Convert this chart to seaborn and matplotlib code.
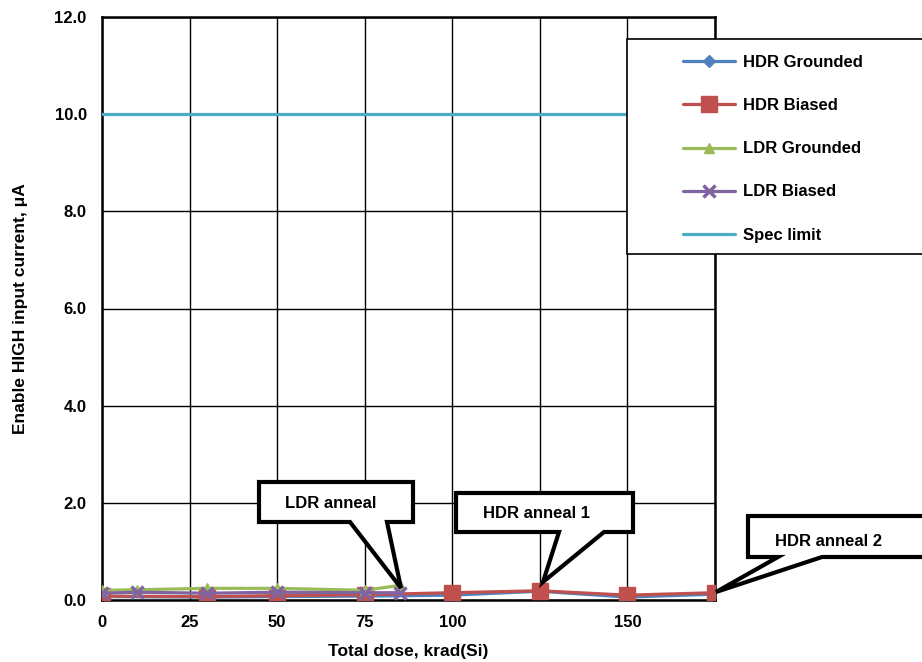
import matplotlib
matplotlib.use("Agg")
import matplotlib.pyplot as plt
import matplotlib.patches as mpatches
from matplotlib.transforms import IdentityTransform
import seaborn as sns
import pandas as pd

# ---- data ----
dose_hdr = [0, 30, 50, 75, 100, 125, 150, 175]
hdr_grounded = [0.07, 0.06, 0.07, 0.08, 0.10, 0.18, 0.06, 0.12]
hdr_biased = [0.08, 0.07, 0.09, 0.11, 0.15, 0.19, 0.10, 0.15]
dose_ldr = [0, 10, 30, 50, 75, 85]
ldr_grounded = [0.20, 0.21, 0.24, 0.24, 0.20, 0.30]
ldr_biased = [0.14, 0.16, 0.14, 0.16, 0.15, 0.15]
spec_dose = [0, 175]
spec_limit = [10.0, 10.0]

x_ticks = [0, 25, 50, 75, 100, 125, 150, 175]
x_tick_labels = ["0", "25", "50", "75", "100", "", "150", ""]
y_ticks = [0, 2, 4, 6, 8, 10, 12]
y_tick_labels = ["0.0", "2.0", "4.0", "6.0", "8.0", "10.0", "12.0"]

sns.set_theme(style="white")
plt.rcParams["font.family"] = ["Liberation Sans", "DejaVu Sans"]
plt.rcParams["font.weight"] = "bold"
for k in ["text.color", "axes.labelcolor", "xtick.color", "ytick.color"]:
    plt.rcParams[k] = "black"

FS = 12
W, H = 922, 662
fig = plt.figure(figsize=(W / 100, H / 100), dpi=100)
ax = fig.add_axes([102 / W, 1 - 600 / H, (715 - 102) / W, (600 - 17) / H])

series = [
    ("HDR Grounded", dose_hdr, hdr_grounded, "#4F81BD", "D", 6, 1),
    ("HDR Biased", dose_hdr, hdr_biased, "#C0504D", "s", 11, 1),
    ("LDR Grounded", dose_ldr, ldr_grounded, "#9BBB59", "^", 7, 1),
    ("LDR Biased", dose_ldr, ldr_biased, "#8064A2", "x", 9, 2.5),
]

sns.lineplot(x=spec_dose, y=spec_limit, color="#4BACC6", linewidth=2.3,
             ax=ax, label="Spec limit", zorder=3)
for name, xs, ys, col, mk, ms, mew in series:
    df = pd.DataFrame({"dose": xs, "val": ys})
    sns.lineplot(data=df, x="dose", y="val", color=col, linewidth=2.3,
                 marker=mk, markersize=ms, markeredgecolor=col,
                 markeredgewidth=mew, ax=ax, label=name, zorder=4)

ax.set_xlim(0, 175)
ax.set_ylim(0, 12)
ax.set_xticks(x_ticks)
ax.set_xticklabels(x_tick_labels, fontsize=FS, fontweight="bold")
ax.set_yticks(y_ticks)
ax.set_yticklabels(y_tick_labels, fontsize=FS, fontweight="bold")
ax.tick_params(axis="both", length=0, colors="black")
ax.tick_params(axis="x", pad=11)
ax.tick_params(axis="y", pad=11)
ax.grid(True, color="black", linewidth=1.0)
for s in ax.spines.values():
    s.set_color("black")
    s.set_linewidth(1.8)
ax.set_xlabel("Total dose, krad(Si)", fontsize=12.5, fontweight="bold", labelpad=10)
ax.set_ylabel("Enable HIGH input current, μA", fontsize=12.5, fontweight="bold", labelpad=19)

handles, labels = ax.get_legend_handles_labels()
ax.get_legend().remove()
order = ["HDR Grounded", "HDR Biased", "LDR Grounded", "LDR Biased", "Spec limit"]
hmap = dict(zip(labels, handles))

# legend frame
rect = mpatches.Rectangle((627, H - 254), 320, 215, transform=IdentityTransform(),
                          facecolor="white", edgecolor="black", linewidth=1.2, zorder=5)
fig.add_artist(rect)
leg = fig.legend([hmap[k] for k in order], order, loc="upper left",
                 bbox_to_anchor=(683 / W, 1 - 55 / H), frameon=False,
                 prop={"size": FS, "weight": "bold"}, handlelength=3.1,
                 handletextpad=0.5, labelspacing=1.69, borderpad=0, borderaxespad=0)
leg.set_zorder(6)


# callouts (pixel coords, y measured from top)
def callout(box, base, tip, text, tx, ty):
    x0, y0, x1, y1 = box
    b0, b1 = base
    pts = [(x0, y0), (x1, y0), (x1, y1), (b1, y1), tip, (b0, y1), (x0, y1)]
    pts = [(px, H - py) for px, py in pts]
    poly = mpatches.Polygon(pts, closed=True, transform=IdentityTransform(),
                            facecolor="white", edgecolor="black", linewidth=3,
                            joinstyle="miter", zorder=7)
    fig.add_artist(poly)
    fig.text(tx / W, 1 - ty / H, text, fontsize=FS, fontweight="bold",
             ha="center", va="center", zorder=8)


callout((259, 482, 413, 522), (350, 387), (401, 588), "LDR anneal", 331, 503)
callout((456, 493, 633, 532), (559, 604), (543, 582), "HDR anneal 1", 536, 514)
callout((748, 516, 940, 557), (778, 822), (716, 592), "HDR anneal 2", 828, 541)

fig.savefig("out.png", dpi=100)
